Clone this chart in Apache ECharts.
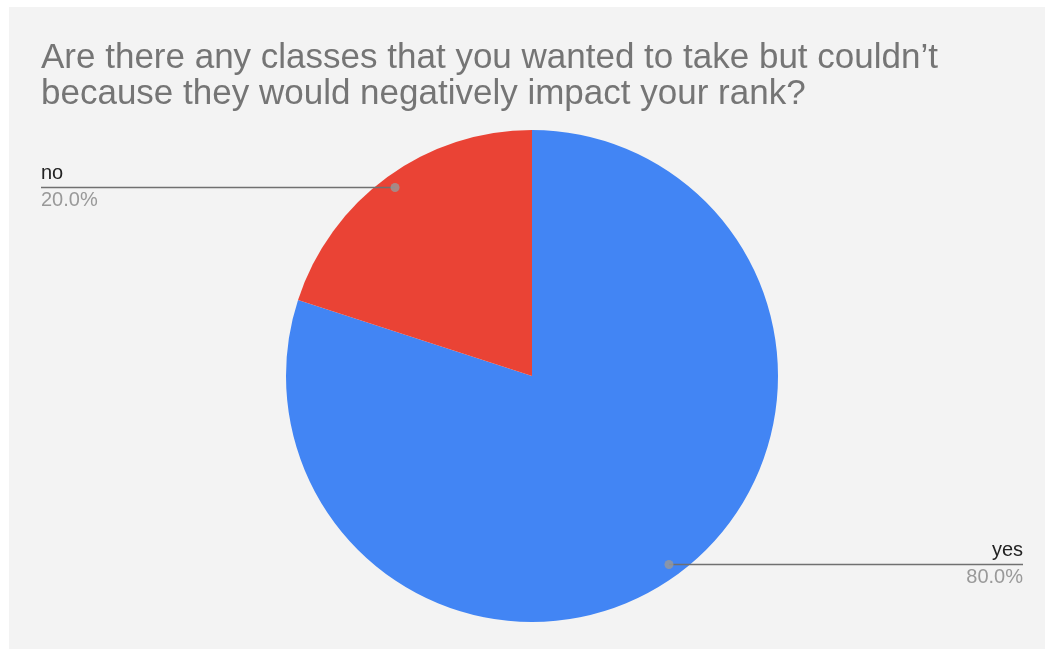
<!DOCTYPE html>
<html>
<head>
<meta charset="utf-8">
<script src="https://cdn.jsdelivr.net/npm/echarts@6/dist/echarts.min.js"></script>
<style>
  html, body { margin: 0; padding: 0; background: #ffffff; }
  #chart { position: absolute; left: 9px; top: 7px; width: 1036px; height: 642px; background: #f3f3f3; }
</style>
</head>
<body>
<div id="chart"></div>
<script>
// Survey answers
const titleLines = [
  'Are there any classes that you wanted to take but couldn\u2019t',
  'because they would negatively impact your rank?'
];
const categories = ['yes', 'no'];
const values = [80, 20];
const colors = ['#4285f4', '#ea4335'];

const total = values.reduce((a, b) => a + b, 0);

// middle of each slice along the value circle, used for the leader-line dots
const midValues = [];
let acc = 0;
values.forEach(v => { midValues.push(acc + v / 2); acc += v; });

const DOT_INSET = 13;          // px the leader dot sits inside the rim
const PIE_R = 246;
const DOT_R = (PIE_R - DOT_INSET) / PIE_R;

const FONT = 'Liberation Sans, Arial, sans-serif';

// shared geometry for the filled pie and the label layer drawn above it
const pieBase = {
  type: 'pie',
  left: 32,
  right: 22,
  top: 0,
  bottom: 0,
  center: [491, 369],
  radius: PIE_R,
  startAngle: 90,
  clockwise: true,
  emphasis: { disabled: true },
  silent: true
};

const chart = echarts.init(document.getElementById('chart'));

chart.setOption({
  backgroundColor: '#f3f3f3',
  animation: false,
  title: {
    text: titleLines.join('\n'),
    left: 27,
    top: 28,
    textStyle: {
      fontFamily: FONT,
      fontSize: 35,
      fontWeight: 'normal',
      color: '#757575',
      lineHeight: 36
    }
  },
  polar: { center: [523, 369], radius: PIE_R },
  angleAxis: { type: 'value', min: 0, max: total, startAngle: 90, clockwise: true, show: false },
  radiusAxis: { type: 'value', min: 0, max: 1, show: false },
  series: [
    Object.assign({}, pieBase, {
      name: 'slices',
      data: categories.map((c, i) => ({ name: c, value: values[i], itemStyle: { color: colors[i] } })),
      label: { show: false },
      labelLine: { show: false },
      z: 1
    }),
    Object.assign({}, pieBase, {
      name: 'labels',
      data: categories.map((c, i) => ({ name: c, value: values[i], itemStyle: { color: 'rgba(0,0,0,0)' } })),
      label: {
        show: true,
        position: 'outside',
        alignTo: 'edge',
        edgeDistance: 0,
        formatter: p => '{n|' + p.name + '}\n{p|' + p.percent.toFixed(1) + '%}',
        rich: {
          n: { fontFamily: FONT, fontSize: 20, color: '#222222', lineHeight: 26, padding: [0, 0, 2, 0] },
          p: { fontFamily: FONT, fontSize: 20, color: '#999999', lineHeight: 26 }
        }
      },
      labelLine: {
        show: true,
        length: 10,
        length2: 10,
        minTurnAngle: 0,
        maxSurfaceAngle: 180,
        lineStyle: { color: '#707070', width: 1.6 }
      },
      labelLayout: function (params) {
        const pts = params.labelLinePoints;
        if (!pts) return {};
        const p0 = pts[0], p1 = pts[1];
        const dx = p1[0] - p0[0], dy = p1[1] - p0[1];
        const len = Math.sqrt(dx * dx + dy * dy) || 1;
        const sx = p0[0] - dx / len * DOT_INSET;
        const sy = p0[1] - dy / len * DOT_INSET;
        const r = params.labelRect;
        const onLeft = r.x + r.width / 2 < sx;
        const farX = onLeft ? r.x : r.x + r.width;
        return {
          y: sy,
          labelLinePoints: [[sx, sy], [(sx + farX) / 2, sy], [farX, sy]]
        };
      },
      z: 3
    }),
    {
      type: 'scatter',
      coordinateSystem: 'polar',
      symbolSize: 9,
      itemStyle: { color: '#999999' },
      data: midValues.map(m => [DOT_R, m]),
      silent: true,
      z: 5
    }
  ]
});
</script>
</body>
</html>
